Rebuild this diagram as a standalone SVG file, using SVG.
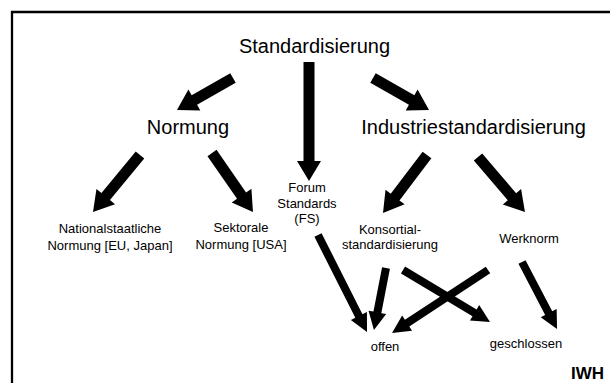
<svg xmlns="http://www.w3.org/2000/svg" width="610" height="383" viewBox="0 0 610 383">
<style>
  .t { font-family: "Liberation Sans", Arial, sans-serif; fill: #000; text-anchor: middle; }
  .big { font-size: 20px; }
  .sm { font-size: 13px; }
  .a { fill: #000; stroke: none; }
</style>
<rect width="610" height="383" fill="#fff"/>
<path d="M12,383 V12 H610" fill="none" stroke="#000" stroke-width="2.3"/>
<g id="connectors">
  <path class="a" transform="translate(233,78) rotate(150.3)" d="M0,-5.5 H44.5 V-12 L64.5,0 L44.5,12 V5.5 H0 Z"/>
  <path class="a" transform="translate(309,62) rotate(90)" d="M0,-5.5 H99 V-12 L119,0 L99,12 V5.5 H0 Z"/>
  <path class="a" transform="translate(373,78) rotate(29.7)" d="M0,-5.5 H44.5 V-12 L64.5,0 L44.5,12 V5.5 H0 Z"/>
  <path class="a" transform="translate(140,155) rotate(129.5)" d="M0,-5.5 H53.9 V-12 L73.9,0 L53.9,12 V5.5 H0 Z"/>
  <path class="a" transform="translate(212,153) rotate(55.2)" d="M0,-5.5 H51.8 V-12 L71.8,0 L51.8,12 V5.5 H0 Z"/>
  <path class="a" transform="translate(427,155) rotate(127.2)" d="M0,-5.5 H52.8 V-12 L72.8,0 L52.8,12 V5.5 H0 Z"/>
  <path class="a" transform="translate(478,157) rotate(49.5)" d="M0,-5.5 H52.3 V-12 L72.3,0 L52.3,12 V5.5 H0 Z"/>
  <path class="a" transform="translate(318,235) rotate(63.2)" d="M0,-4 H90.7 V-9 L108.7,0 L90.7,9 V4 H0 Z"/>
  <path class="a" transform="translate(386,268) rotate(101)" d="M0,-4 H45.2 V-9 L63.2,0 L45.2,9 V4 H0 Z"/>
  <path class="a" transform="translate(403,270) rotate(30.9)" d="M0,-4 H83.4 V-9 L101.4,0 L83.4,9 V4 H0 Z"/>
  <path class="a" transform="translate(488,270) rotate(146.7)" d="M0,-4 H96.8 V-9 L114.8,0 L96.8,9 V4 H0 Z"/>
  <path class="a" transform="translate(522,262) rotate(62.4)" d="M0,-4 H57.6 V-9 L75.6,0 L57.6,9 V4 H0 Z"/>
</g>
<g id="standardisierung"><text class="t big" x="314.5" y="53">Standardisierung</text></g>
<g id="normung"><text class="t big" x="188" y="134">Normung</text></g>
<g id="industriestandardisierung"><text class="t big" x="473.5" y="134">Industriestandardisierung</text></g>
<g id="national"><text class="t sm" x="110" y="233">Nationalstaatliche</text><text class="t sm" x="110" y="250">Normung [EU, Japan]</text></g>
<g id="sektorale"><text class="t sm" x="241" y="232">Sektorale</text><text class="t sm" x="241" y="249">Normung [USA]</text></g>
<g id="forum"><text class="t sm" x="307" y="192">Forum</text><text class="t sm" x="307" y="208">Standards</text><text class="t sm" x="307" y="223">(FS)</text></g>
<g id="konsortial"><text class="t sm" x="390" y="234">Konsortial-</text><text class="t sm" x="390" y="249">standardisierung</text></g>
<g id="werknorm"><text class="t sm" x="529" y="243">Werknorm</text></g>
<g id="offen"><text class="t sm" x="385" y="351">offen</text></g>
<g id="geschlossen"><text class="t sm" x="526" y="348">geschlossen</text></g>
<g id="iwh"><text class="t" x="604" y="379" style="font-size:17px;font-weight:bold;text-anchor:end">IWH</text></g>
</svg>
